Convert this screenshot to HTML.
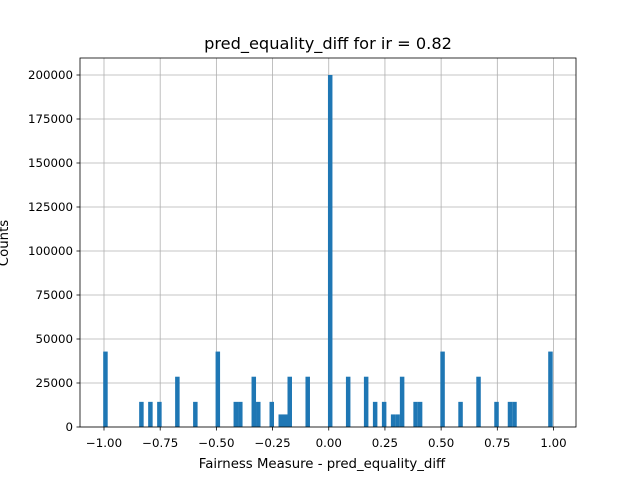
<!DOCTYPE html>
<html><head><meta charset="utf-8"><style>
html,body{margin:0;padding:0;background:#fff}
svg{display:block;font-family:"DejaVu Sans","Liberation Sans",sans-serif}
</style></head><body>
<svg id="chart" width="640" height="480" viewBox="0 0 640 480">
<rect x="0" y="0" width="640" height="480" fill="#fff"/>
<g id="grid"></g>
<g id="bars"></g>
<g id="axes"></g>
<text x="328" y="49" text-anchor="middle" font-size="16.2">pred_equality_diff for ir = 0.82</text>
<text x="322" y="468" text-anchor="middle" font-size="13.3">Fairness Measure - pred_equality_diff</text>
<text transform="translate(8,243) rotate(-90)" text-anchor="middle" font-size="13.3">Counts</text>
</svg>
<script>
const binIndices = [0,8,10,12,16,20,25,29,30,33,34,37,39,40,41,45,50,54,58,60,62,64,65,66,69,70,75,79,83,87,90,91,99];
const binCounts = [42857,14286,14286,14286,28571,14286,42857,14286,14286,28571,14286,14286,7143,7143,28571,28571,200000,28571,28571,14286,14286,7143,7143,28571,14286,14286,42857,14286,28571,14286,14286,14286,42857];
const xTicks = [-1.0,-0.75,-0.5,-0.25,0.0,0.25,0.5,0.75,1.0];
const xTickLabels = ["\u22121.00","\u22120.75","\u22120.50","\u22120.25","0.00","0.25","0.50","0.75","1.00"];
const yTicks = [0,25000,50000,75000,100000,125000,150000,175000,200000];
const binMin = -1, binWidth = 0.02;

const NS="http://www.w3.org/2000/svg";
const L=80,R=576,T=58,B=427;
const xs=v=>104+(v+1)*224.75;
const ys=v=>427-v*(352/200000);
function mk(tag,attrs,parent){const e=document.createElementNS(NS,tag);for(const k in attrs)e.setAttribute(k,attrs[k]);parent.appendChild(e);return e;}
const grid=document.getElementById('grid'),bars=document.getElementById('bars'),axes=document.getElementById('axes');
xTicks.forEach((t,i)=>{
  const g=mk('line',{x1:xs(t),x2:xs(t),y1:T,y2:B,stroke:'#b0b0b0','stroke-width':0.8},grid);
  
  
  const tk=mk('line',{x1:xs(t),x2:xs(t),y1:B,y2:B+3.5,stroke:'#000','stroke-width':0.8},axes);
  
  
  const tx=mk('text',{x:xs(t),y:447,'text-anchor':'middle','font-size':'11.8'},axes);
  tx.textContent=xTickLabels[i];
  
  
});
yTicks.forEach(t=>{
  const g=mk('line',{x1:L,x2:R,y1:ys(t),y2:ys(t),stroke:'#b0b0b0','stroke-width':0.8},grid);
  
  
  const tk=mk('line',{x1:L-3.5,x2:L,y1:ys(t),y2:ys(t),stroke:'#000','stroke-width':0.8},axes);
  
  
  const tx=mk('text',{x:L-7,y:ys(t)+4.2,'text-anchor':'end','font-size':'11.8'},axes);
  tx.textContent=String(t);
  
  
});
binIndices.forEach((bi,i)=>{
  const x0=xs(binMin+bi*binWidth)-0.8,x1=xs(binMin+(bi+1)*binWidth)-0.8;
  const r=mk('rect',{x:x0,y:ys(binCounts[i]),width:x1-x0,height:B-ys(binCounts[i]),fill:'#1f77b4'},bars);
  
  
});
const fr=mk('rect',{x:L,y:T,width:R-L,height:B-T,fill:'none',stroke:'#000','stroke-width':0.8},axes);


</script>
</body></html>
